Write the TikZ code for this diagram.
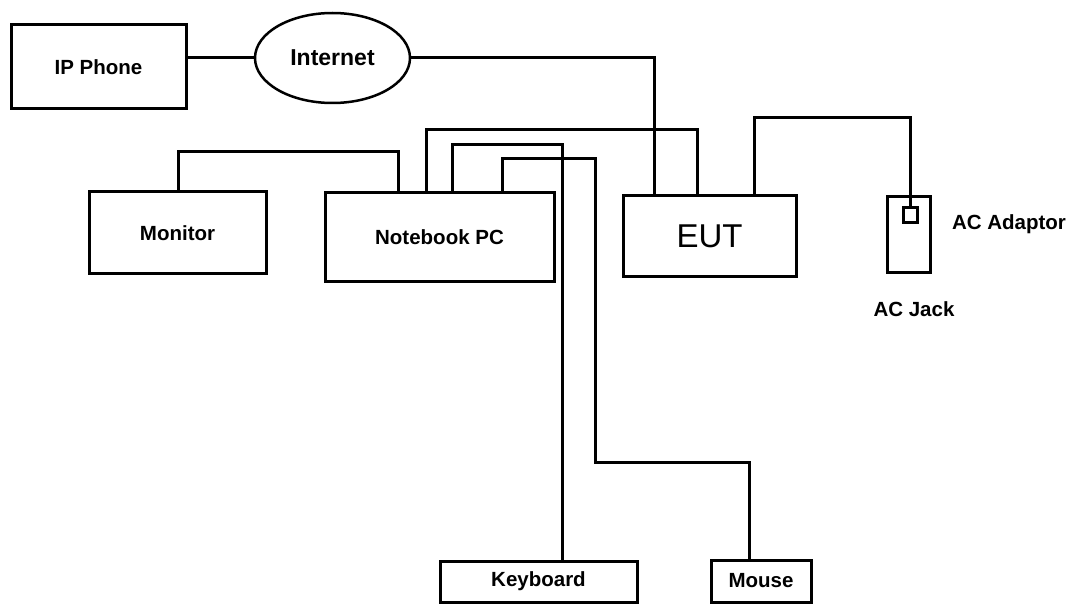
\documentclass[tikz,border=0pt]{standalone}
\usepackage{fontspec}
\setmainfont{Liberation Sans}
\usetikzlibrary{shapes.geometric}
\begin{document}
\begin{tikzpicture}[x=1pt,y=-1pt]
%styles des noeuds
\tikzstyle{boxEq}=[rectangle, draw, line width=3pt, inner sep=0pt, font=\fontsize{20.5}{24}\selectfont\bfseries]
\tikzstyle{ellNet}=[ellipse, draw, line width=2.5pt, inner sep=0pt, font=\fontsize{23}{27}\selectfont\bfseries]
\tikzstyle{textLbl}=[rectangle, text=black, font=\fontsize{20.5}{24}\selectfont\bfseries]
\tikzstyle{cable}=[line width=3pt]
\useasboundingbox (0,0) rectangle (1072,604);
%noeuds
\node[boxEq, minimum width=175pt, minimum height=84pt] (ipp) at (98.5,67) {IP Phone};
\node[ellNet, minimum width=155pt, minimum height=90pt] (inet) at (332.5,58) {Internet};
\node[boxEq, minimum width=177pt, minimum height=82pt] (mon) at (177.5,233) {Monitor};
\node[boxEq, minimum width=229pt, minimum height=89pt] (nb) at (439.5,237.5) {Notebook PC};
\node[boxEq, minimum width=173pt, minimum height=81pt, font=\fontsize{33}{38}\selectfont] (eut) at (709.5,236.5) {EUT};
\node[boxEq, minimum width=43pt, minimum height=76pt] (jack) at (908.5,235) {};
\node[boxEq, minimum width=14pt, minimum height=15pt] (sq) at (910,215.5) {};
\node[boxEq, minimum width=197pt, minimum height=41pt] (kb) at (538.5,581.5) {Keyboard};
\node[boxEq, minimum width=100pt, minimum height=42pt] (ms) at (761,581) {Mouse};
%text
\node[textLbl] (lblAdapt) at (1009,224) {AC Adaptor};
\node[textLbl] (lblJack) at (914,309) {AC Jack};
%coudes
\coordinate (m1) at (178,152);
\coordinate (m2) at (398,152);
\coordinate (n1) at (654,0);
\coordinate (b2) at (426,130);
\coordinate (b2r) at (697,130);
\coordinate (b3) at (452,145);
\coordinate (b3r) at (562,145);
\coordinate (b4) at (502,159);
\coordinate (b4r) at (595,159);
\coordinate (b4d) at (595,462);
\coordinate (b4e) at (749,462);
\coordinate (b5) at (754,118);
%liaisons
\draw[cable] (ipp.east |- inet.west) -- (inet.west);
\draw[cable] (inet.east) -| (eut.north -| n1);
\draw[cable] (mon.north -| m1) -- (m1) -- (m2) -- (nb.north -| m2);
\draw[cable] (nb.north -| b2) -- (b2) -- (b2r) -- (eut.north -| b2r);
\draw[cable] (nb.north -| b3) -- (b3) -- (b3r) -- (kb.north -| b3r);
\draw[cable] (nb.north -| b4) -- (b4) -- (b4r) -- (b4d) -- (b4e) -- (ms.north -| b4e);
\draw[cable] (eut.north -| b5) -- (b5) -| (sq.north);
\end{tikzpicture}
\end{document}
